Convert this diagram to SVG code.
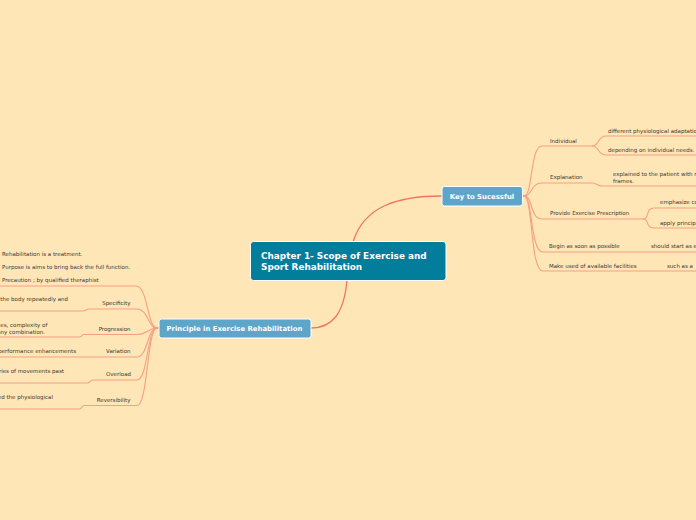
<svg xmlns="http://www.w3.org/2000/svg" width="696" height="520" viewBox="0 0 696 520">
<style>
.bg{fill:#FFE6B7}
.main{fill:none;stroke:#EF7464;stroke-width:1.3}
.sub{fill:none;stroke:#F5A086;stroke-width:1.1}
.t{font-family:"DejaVu Sans",Verdana,sans-serif;font-size:5.5px;fill:#3f372e}
.nb{font-family:"DejaVu Sans",Verdana,sans-serif;font-weight:bold;fill:#ffffff}
.end{text-anchor:end}
</style>
<rect class="bg" x="0" y="0" width="696" height="520"/>
<g id="connectors">
<path class="main" d="M353,242 C364,206 398,196 442,196"/>
<path class="main" d="M347,280 C344,314 332,328 311,328"/>
<path class="main" d="M522,196 H527" stroke-width="2"/>
<path class="main" d="M153,328 H159" stroke-width="2"/>
<path class="sub" d="M524,196 C533,196 530,146 542,146 H592"/>
<path class="sub" d="M592,146 C600,146 597,136 606,136 H696"/>
<path class="sub" d="M592,146 C600,146 597,155 606,155 H696"/>
<path class="sub" d="M524,196 C533,196 530,183 542,183 H592 C597,183 597,186 602,186 H696"/>
<path class="sub" d="M524,196 C533,196 530,219 542,219 H643"/>
<path class="sub" d="M643,219 C650,219 645,208 654,208 H696"/>
<path class="sub" d="M643,219 C650,219 645,228 654,228 H696"/>
<path class="sub" d="M524,196 C533,196 530,252 543,252 H696"/>
<path class="sub" d="M524,196 C533,196 530,271 543,271 H696"/>
<path class="sub" d="M157,328 C147,328 148,286 136,286 H0"/>
<path class="sub" d="M157,328 C148,328 148,309 137,309 H89 C86,309 86,311 83,311 H0"/>
<path class="sub" d="M157,328 C148,328 148,334.5 137,334.5 H84 C82,334.5 82,337 79,337 H0"/>
<path class="sub" d="M157,328 C147,328 148,357 137,357 H0"/>
<path class="sub" d="M157,328 C147,328 148,380 137,380 H93 C90,380 90,383 87,383 H0"/>
<path class="sub" d="M157,328 C147,328 148,405.5 137,405.5 H84 C82,405.5 82,409 79,409 H0"/>
</g>
<g id="central">
<rect x="250.5" y="241.5" width="195.5" height="39" rx="3" fill="#037D9C" stroke="#ffffff" stroke-width="1"/>
<text class="nb" x="261" y="259.2" font-size="8.9">Chapter 1- Scope of Exercise and</text>
<text class="nb" x="261" y="270.2" font-size="8.9">Sport Rehabilitation</text>
</g>
<g id="key">
<rect x="442" y="186.5" width="80.5" height="19.5" rx="2.5" fill="#5EA6C9" stroke="#ffffff" stroke-width="1"/>
<text class="nb" x="482" y="198.6" font-size="6.9" text-anchor="middle">Key to Sucessful</text>
</g>
<g id="principle">
<rect x="159" y="319" width="152" height="19" rx="2.5" fill="#5EA6C9" stroke="#ffffff" stroke-width="1"/>
<text class="nb" x="166.5" y="330.7" font-size="6.9">Principle in Exercise Rehabilitation</text>
</g>
<g id="right-children">
<text class="t" x="550" y="143">Individual</text>
<text class="t" x="608" y="133">different physiological adaptatio</text>
<text class="t" x="608" y="152">depending on individual needs.</text>
<text class="t" x="550" y="179">Explanation</text>
<text class="t" x="613" y="175.8">explained to the patient with r</text>
<text class="t" x="613" y="182.5">frames.</text>
<text class="t" x="550" y="215">Provide Exercise Prescription</text>
<text class="t" x="660" y="204">emphasize co</text>
<text class="t" x="660" y="225">apply princip</text>
<text class="t" x="549" y="248">Begin as soon as possible</text>
<text class="t" x="651" y="248">should start as e</text>
<text class="t" x="549" y="268">Make used of available facilities</text>
<text class="t" x="667" y="268">such as a</text>
</g>
<g id="left-children">
<text class="t" x="2" y="256">Rehabilitation is a treatment.</text>
<text class="t" x="2" y="269">Purpose is aims to bring back the full function.</text>
<text class="t" x="2" y="282">Precaution ; by qualified theraphist</text>
<text class="t end" x="130.5" y="304.5">Specificity</text>
<text class="t" x="0.3" y="301">the body repeatedly and</text>
<text class="t end" x="130.5" y="331">Progression</text>
<text class="t" x="0.3" y="327">es, complexity of</text>
<text class="t end" x="45" y="333.5">any combination.</text>
<text class="t end" x="130.5" y="353">Variation</text>
<text class="t end" x="76" y="353">performance enhancements</text>
<text class="t end" x="131" y="376">Overload</text>
<text class="t end" x="64" y="373">ries of movements past</text>
<text class="t end" x="130.5" y="402">Reversibility</text>
<text class="t end" x="53" y="399">ed the physiological</text>
</g>
</svg>
